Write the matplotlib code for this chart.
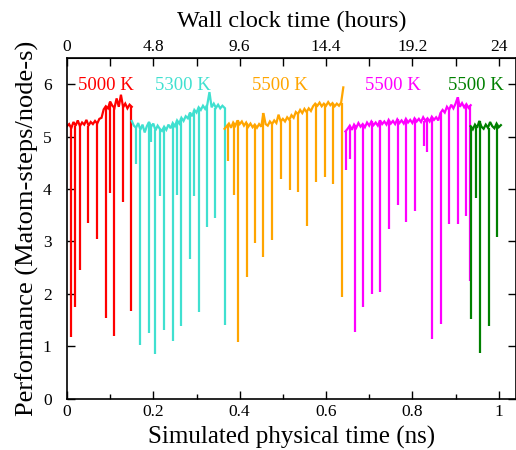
import numpy as np
import matplotlib
matplotlib.use("Agg")
import matplotlib.pyplot as plt
from matplotlib.ticker import MultipleLocator, FixedLocator, FuncFormatter

plt.rcParams['font.family'] = ['Liberation Serif', 'DejaVu Serif']

STEP = 0.005  # sampling interval of baseline readings (ns)

# ---- baseline readings (Matom-steps/node-s) ----
red_start = 0.000
red_vals = [5.20, 5.24, 5.16, 5.28, 5.21, 5.31, 5.20, 5.27, 5.23, 5.32, 5.21, 5.28,
            5.24, 5.30, 5.25, 5.34, 5.36, 5.52, 5.58, 5.54, 5.67, 5.59, 5.55, 5.73,
            5.57, 5.80, 5.56, 5.63, 5.54, 5.61, 5.57]

cyan_start = 0.150
cyan_vals = [5.30, 5.21, 5.17, 5.26, 5.13, 5.23, 5.08, 5.20, 5.28, 5.19, 5.25, 5.12,
             5.21, 5.15, 5.11, 5.19, 5.13, 5.23, 5.16, 5.26, 5.20, 5.31, 5.25, 5.36,
             5.30, 5.39, 5.35, 5.46, 5.39, 5.51, 5.46, 5.56, 5.51, 5.59, 5.53, 5.61,
             5.85, 5.56, 5.63, 5.55, 5.61, 5.54, 5.59, 5.55]

orange_start = 0.365
orange_vals = [5.15, 5.20, 5.25, 5.17, 5.27, 5.21, 5.31, 5.24, 5.29, 5.21, 5.27, 5.19,
               5.25, 5.18, 5.23, 5.17, 5.24, 5.19, 5.45, 5.24, 5.21, 5.29, 5.24, 5.31,
               5.26, 5.42, 5.29, 5.34, 5.29, 5.37, 5.32, 5.41, 5.36, 5.47, 5.43, 5.51,
               5.45, 5.53, 5.47, 5.54, 5.49, 5.58, 5.63, 5.59, 5.65, 5.58, 5.63, 5.59,
               5.66, 5.60, 5.64, 5.58, 5.63, 5.59, 5.65, 5.94]

magenta_start = 0.645
magenta_vals = [5.10, 5.15, 5.21, 5.13, 5.23, 5.17, 5.26, 5.19, 5.24, 5.18, 5.27, 5.21,
                5.29, 5.22, 5.27, 5.21, 5.31, 5.24, 5.29, 5.23, 5.32, 5.25, 5.30, 5.24,
                5.33, 5.26, 5.31, 5.25, 5.34, 5.27, 5.32, 5.26, 5.35, 5.29, 5.34, 5.28,
                5.37, 5.30, 5.35, 5.29, 5.38, 5.32, 5.37, 5.31, 5.45, 5.51, 5.46, 5.57,
                5.51, 5.61, 5.54, 5.63, 5.75, 5.57, 5.64, 5.56, 5.62, 5.55, 5.60]

green_start = 0.935
green_vals = [5.20, 5.14, 5.23, 5.17, 5.30, 5.19, 5.15, 5.23, 5.17, 5.28, 5.20, 5.16,
              5.25, 5.18, 5.22]

# ---- downward spikes: times (ns) and minimum values ----
red_spike_t = [0.0093, 0.0185, 0.030, 0.049, 0.069, 0.0896, 0.0995, 0.109, 0.129, 0.149]
red_spike_v = [1.17, 1.75, 2.45, 3.36, 3.05, 1.54, 3.93, 1.20, 3.75, 1.68]

cyan_spike_t = [0.160, 0.169, 0.189, 0.195, 0.204, 0.215, 0.2245, 0.245, 0.254, 0.264,
                0.285, 0.294, 0.305, 0.324, 0.344, 0.365]
cyan_spike_v = [4.47, 1.03, 1.26, 4.90, 0.85, 3.86, 1.31, 1.11, 3.88, 1.38,
                2.66, 3.86, 1.66, 3.27, 3.45, 1.40]

orange_spike_t = [0.374, 0.386, 0.396, 0.4167, 0.436, 0.455, 0.476, 0.496, 0.5155,
                  0.536, 0.5556, 0.576, 0.5965, 0.6157, 0.6366]
orange_spike_v = [4.53, 3.88, 1.08, 2.33, 2.98, 2.70, 3.03, 4.19, 3.99,
                  3.94, 3.30, 4.14, 4.23, 4.09, 1.94]

magenta_spike_t = [0.6458, 0.656, 0.666, 0.686, 0.706, 0.726, 0.746, 0.766, 0.786,
                   0.8056, 0.828, 0.835, 0.845, 0.866, 0.885, 0.905, 0.925, 0.9345]
magenta_spike_v = [4.37, 4.58, 1.28, 1.75, 2.00, 2.03, 3.24, 3.69, 3.38,
                   3.58, 4.82, 4.70, 1.14, 1.42, 3.33, 3.33, 3.48, 2.24]

green_spike_t = [0.936, 0.947, 0.956, 0.977, 0.996]
green_spike_v = [1.52, 3.83, 0.87, 1.38, 3.09]

labels = ["5000 K", "5300 K", "5500 K", "5500 K", "5500 K"]
label_x = [0.025, 0.204, 0.428, 0.690, 0.882]
label_y = 5.98

colors = ["#ff0000", "#40e0d0", "#ffa500", "#ff00ff", "#008000"]

bottom_ticks = [0, 0.2, 0.4, 0.6, 0.8, 1.0]
top_ticks = [0, 4.8, 9.6, 14.4, 19.2, 24]

segments = [
    (red_start, red_vals, red_spike_t, red_spike_v),
    (cyan_start, cyan_vals, cyan_spike_t, cyan_spike_v),
    (orange_start, orange_vals, orange_spike_t, orange_spike_v),
    (magenta_start, magenta_vals, magenta_spike_t, magenta_spike_v),
    (green_start, green_vals, green_spike_t, green_spike_v),
]

fig = plt.figure(figsize=(5.16, 4.5), dpi=100)
ax = fig.add_axes([0.1298, 0.114, 0.8702, 0.757])

for (start, vals, st, sv), c in zip(segments, colors):
    vals = np.asarray(vals)
    t = start + STEP * np.arange(len(vals))
    ax.plot(t, vals, color=c, lw=1.6, solid_joinstyle='miter')
    st = np.asarray(st)
    tops = vals[np.abs(t[None, :] - st[:, None]).argmin(axis=1)]
    ax.vlines(st, sv, tops, color=c, lw=1.6)

for txt, x, c in zip(labels, label_x, colors):
    ax.text(x, label_y, txt, color=c, fontsize=13.5, ha='left', va='center')

ax.set_xlim(0, 1.04)
ax.set_ylim(0, 6.5)
ax.xaxis.set_major_locator(FixedLocator(bottom_ticks))
ax.xaxis.set_minor_locator(FixedLocator([0.1, 0.3, 0.5, 0.7, 0.9]))
ax.yaxis.set_major_locator(MultipleLocator(1))
ax.xaxis.set_major_formatter(FuncFormatter(lambda v, p: f"{v:g}"))
ax.tick_params(axis='both', which='both', direction='in', labelsize=12.5,
               top=False, right=True)
ax.tick_params(which='major', length=6, width=1)
ax.tick_params(which='minor', length=3.5, width=1)
ax.tick_params(axis='x', pad=4)
ax.tick_params(axis='y', pad=11)

ax.set_xlabel("Simulated physical time (ns)", fontsize=18, labelpad=4)
ax.set_ylabel("Performance (Matom-steps/node-s)", fontsize=19, labelpad=3)

top = ax.secondary_xaxis('top', functions=(lambda x: x * 24, lambda h: h / 24))
top.xaxis.set_major_locator(FixedLocator(top_ticks))
top.xaxis.set_minor_locator(FixedLocator([2.4, 7.2, 12.0, 16.8, 21.6]))
top.xaxis.set_major_formatter(FuncFormatter(lambda v, p: f"{v:g}"))
top.tick_params(which='both', direction='in', labelsize=12.5, pad=2)
top.tick_params(which='major', length=6, width=1)
top.tick_params(which='minor', length=6, width=1)
top.set_xlabel("Wall clock time (hours)", fontsize=17.5, labelpad=9)

for s in ax.spines.values():
    s.set_linewidth(1.2)

fig.savefig("out.png", dpi=100)
